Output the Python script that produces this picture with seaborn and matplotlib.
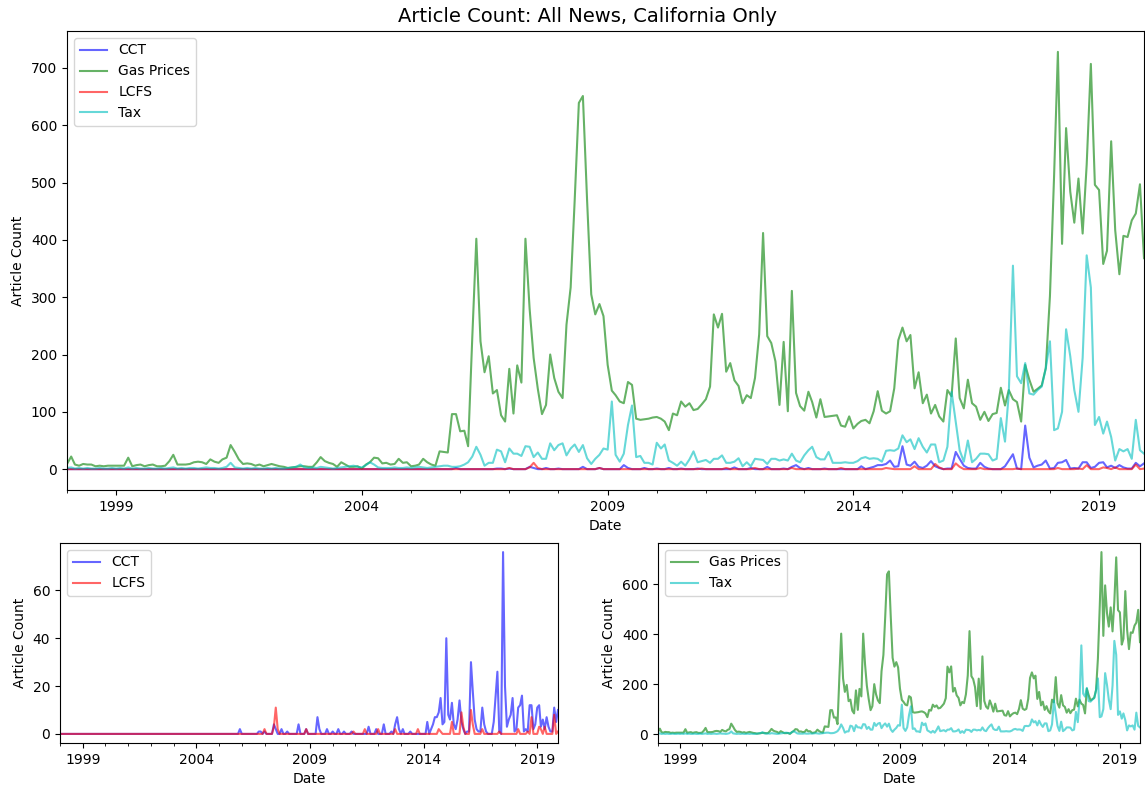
import numpy as np
import pandas as pd
import matplotlib
matplotlib.use("Agg")
import matplotlib.pyplot as plt
import matplotlib.dates as mdates
import seaborn as sns

# ---------------- data (monthly counts, Jan 1998 - Dec 2019) ----------------
start_month = "1998-01-01"

gas_prices = [
    9, 22, 8, 6, 9, 8, 8, 5, 6, 5, 6, 6,            # 1998
    6, 6, 6, 20, 5, 7, 8, 5, 7, 8, 5, 5,            # 1999
    6, 14, 25, 8, 8, 8, 9, 12, 13, 12, 9, 17,       # 2000
    13, 11, 17, 20, 42, 30, 17, 9, 10, 9, 6, 8,     # 2001
    5, 7, 9, 7, 5, 4, 2, 3, 4, 5, 5, 4,             # 2002
    4, 12, 21, 14, 11, 9, 4, 12, 8, 4, 4, 5,        # 2003
    1, 8, 12, 20, 19, 10, 11, 8, 9, 18, 11, 12,     # 2004
    5, 6, 8, 18, 12, 8, 6, 31, 30, 29, 96, 96,      # 2005
    66, 67, 40, 230, 402, 223, 169, 197, 132, 138, 94, 83,     # 2006
    175, 97, 181, 151, 402, 280, 194, 140, 96, 112, 200, 159,  # 2007
    135, 124, 252, 317, 469, 639, 651, 470, 305, 270, 288, 267,  # 2008
    182, 137, 129, 118, 115, 152, 147, 88, 86, 87, 88, 90,     # 2009
    91, 88, 83, 68, 97, 94, 118, 109, 115, 103, 105, 113,      # 2010
    122, 144, 270, 247, 271, 170, 185, 155, 145, 115, 129, 124,  # 2011
    159, 235, 412, 232, 220, 188, 112, 222, 101, 311, 133, 110,  # 2012
    102, 135, 117, 90, 122, 91, 92, 93, 94, 76, 74, 92,        # 2013
    71, 79, 84, 86, 80, 101, 136, 102, 97, 101, 141, 225,      # 2014
    247, 223, 234, 141, 169, 115, 130, 97, 112, 92, 83, 138,   # 2015
    127, 228, 124, 106, 156, 115, 109, 86, 100, 84, 96, 98,    # 2016
    142, 111, 138, 122, 117, 83, 182, 156, 135, 140, 146, 176,  # 2017
    302, 513, 728, 393, 595, 484, 430, 507, 411, 531, 707, 496,  # 2018
    487, 358, 381, 572, 417, 340, 407, 405, 434, 446, 497, 368,  # 2019
]

tax = [
    2, 3, 1, 2, 1, 2, 1, 1, 2, 1, 1, 2,
    1, 2, 1, 3, 1, 2, 1, 1, 2, 1, 1, 2,
    1, 2, 3, 1, 2, 1, 2, 2, 1, 2, 3, 2,
    2, 1, 2, 4, 11, 3, 2, 1, 2, 1, 2, 1,
    1, 2, 1, 2, 1, 1, 2, 3, 4, 8, 3, 2,
    3, 2, 4, 3, 2, 1, 2, 3, 4, 5, 6, 4,
    3, 7, 12, 8, 3, 2, 2, 2, 3, 2, 2, 3,
    2, 3, 4, 3, 2, 3, 4, 5, 6, 6, 4, 4,
    5, 8, 12, 22, 39, 25, 6, 11, 11, 34, 31, 12,
    36, 27, 27, 23, 40, 39, 21, 29, 18, 18, 45, 33,
    42, 45, 24, 36, 43, 30, 42, 19, 9, 18, 25, 36,
    34, 118, 25, 13, 27, 77, 111, 21, 23, 11, 11, 8,
    46, 36, 43, 15, 11, 6, 13, 6, 17, 31, 12, 14,
    16, 11, 18, 18, 24, 11, 11, 13, 19, 5, 12, 5,
    18, 17, 16, 9, 18, 18, 15, 17, 15, 27, 15, 12,
    24, 33, 39, 21, 17, 17, 30, 11, 11, 11, 12, 11,
    11, 14, 19, 21, 18, 19, 18, 13, 32, 33, 32, 36,
    59, 47, 52, 35, 54, 39, 29, 43, 43, 12, 15, 39,
    135, 83, 33, 13, 50, 12, 18, 27, 27, 26, 15, 18,
    89, 48, 132, 355, 162, 150, 185, 132, 130, 138, 144, 176,
    223, 68, 71, 100, 244, 197, 138, 100, 194, 373, 317, 77,
    91, 62, 83, 56, 15, 35, 31, 35, 18, 86, 33, 27,
]

cct = [0] * 84 + [
    0, 0, 0, 0, 0, 0, 0, 0, 0, 0, 0, 2,        # 2005
    0, 0, 0, 0, 0, 0, 0, 0, 0, 1, 1, 0,        # 2006
    1, 0, 0, 0, 0, 4, 2, 0, 0, 2, 0, 0,        # 2007
    1, 0, 0, 0, 0, 0, 4, 0, 0, 0, 2, 0,        # 2008
    0, 0, 0, 0, 7, 2, 0, 0, 0, 2, 0, 0,        # 2009
    1, 0, 0, 2, 0, 0, 1, 0, 0, 0, 1, 0,        # 2010
    0, 0, 0, 0, 0, 0, 0, 3, 0, 0, 0, 2,        # 2011
    0, 0, 0, 4, 0, 0, 0, 1, 0, 4, 7, 2,        # 2012
    0, 2, 0, 0, 0, 1, 0, 0, 0, 0, 0, 0,        # 2013
    0, 0, 5, 0, 2, 4, 7, 7, 9, 15, 4, 5,       # 2014
    40, 8, 6, 13, 4, 2, 6, 14, 5, 2, 0, 1,     # 2015
    1, 30, 18, 6, 2, 1, 1, 11, 4, 1, 0, 0,     # 2016
    0, 5, 15, 26, 1, 0, 76, 20, 3, 6, 8, 15,   # 2017
    1, 2, 11, 12, 16, 1, 2, 1, 12, 12, 2, 4,   # 2018
    11, 12, 3, 6, 2, 7, 3, 1, 1, 11, 5, 10,    # 2019
]

lcfs = [0] * 96 + [
    0, 0, 0, 0, 0, 0, 0, 0, 0, 0, 0, 0,        # 2006
    2, 0, 0, 0, 0, 3, 11, 2, 0, 0, 0, 0,       # 2007
    0, 0, 0, 0, 0, 0, 0, 0, 0, 0, 2, 0,        # 2008
    0, 0, 0, 0, 0, 0, 0, 0, 0, 0, 0, 0,        # 2009
    0, 0, 0, 0, 0, 0, 0, 0, 0, 0, 0, 1,        # 2010
    0, 0, 0, 0, 0, 2, 0, 0, 0, 0, 0, 0,        # 2011
    2, 0, 0, 0, 0, 0, 0, 0, 0, 2, 0, 0,        # 2012
    0, 0, 0, 0, 0, 0, 0, 0, 0, 2, 0, 0,        # 2013
    0, 0, 0, 0, 0, 0, 0, 0, 2, 1, 0, 0,        # 2014
    0, 0, 0, 5, 0, 0, 0, 0, 9, 3, 0, 0,        # 2015
    0, 10, 4, 0, 0, 0, 0, 2, 0, 0, 0, 0,       # 2016
    0, 0, 0, 0, 1, 0, 0, 0, 0, 0, 0, 0,        # 2017
    0, 0, 2, 0, 0, 0, 0, 1, 0, 7, 0, 0,        # 2018
    0, 3, 2, 0, 3, 0, 0, 0, 0, 8, 0, 1,        # 2019
]

series_names = ["CCT", "Gas Prices", "LCFS", "Tax"]
series_colors = {"CCT": "b", "Gas Prices": "g", "LCFS": "r", "Tax": "c"}
major_years = [1999, 2004, 2009, 2014, 2019]
minor_years = list(range(1998, 2020))

dates = pd.date_range(start_month, periods=len(gas_prices), freq="MS")
df = pd.DataFrame({"Date": dates, "CCT": cct, "Gas Prices": gas_prices,
                   "LCFS": lcfs, "Tax": tax})

# ---------------- figure ----------------
W, H = 1145, 789
fig = plt.figure(figsize=(W / 100, H / 100), dpi=100)


def rect(left, top, right, bottom):
    return [left / W, 1 - bottom / H, (right - left) / W, (bottom - top) / H]


ax_top = fig.add_axes(rect(67, 31, 1144, 490))
ax_bl = fig.add_axes(rect(60, 543, 558, 743))
ax_br = fig.add_axes(rect(658, 543, 1140, 743))


def draw(ax, names):
    for name in names:
        sns.lineplot(data=df, x="Date", y=name, ax=ax, color=series_colors[name],
                     alpha=0.6, linewidth=1.5, label=name)
    ax.set_xlim(dates[0], dates[-1])
    ax.xaxis.set_major_locator(matplotlib.ticker.FixedLocator(
        mdates.date2num([pd.Timestamp(f"{y}-01-01") for y in major_years])))
    ax.xaxis.set_major_formatter(mdates.DateFormatter("%Y"))
    ax.xaxis.set_minor_locator(matplotlib.ticker.FixedLocator(
        mdates.date2num([pd.Timestamp(f"{y}-01-01") for y in minor_years])))
    ax.set_xlabel("Date")
    ax.set_ylabel("Article Count")
    ax.legend(loc="upper left")


draw(ax_top, series_names)
draw(ax_bl, ["CCT", "LCFS"])
draw(ax_br, ["Gas Prices", "Tax"])
ax_bl.set_yticks([0, 20, 40, 60])
ax_br.set_yticks([0, 200, 400, 600])

fig.text(587 / W, 1 - 17 / H, "Article Count: All News, California Only",
         ha="center", va="center", fontsize=14)

fig.savefig("out.png", dpi=100)
